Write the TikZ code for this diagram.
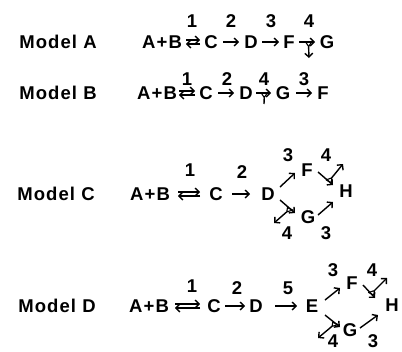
\documentclass[tikz,border=0pt]{standalone}
\usepackage{fontspec}
\setmainfont{Liberation Sans}
\usetikzlibrary{arrows.meta,calc}

% branch marker: small open wedge on a reaction arrow where a side product splits off
% #1 junction, #2 point along the main arrow, #3 end of the side branch
\newcommand{\splitwedge}[3]{%
  \draw[wedge] ($(#1)!3bp!(#2)$) -- ($(#1)!-3bp!(#2)$) -- ($(#1)!4.5bp!(#3)$) -- cycle;}

\tikzset{
  x=1bp, y=-1bp,
  txt/.style={font=\bfseries\fontsize{18.5bp}{21bp}\selectfont, inner sep=0pt,
              text height=13.2bp, text depth=0pt},
  wide/.style={txt, font=\bfseries\fontsize{18.5bp}{21bp}\selectfont\addfontfeature{LetterSpace=6}},
  arr/.style={line width=1.4bp, -{Straight Barb[length=3.8bp,width=8bp]}},
  plain/.style={line width=1.4bp},
  wedge/.style={line width=1.1bp, line join=round},
}

\begin{document}
\begin{tikzpicture}
\useasboundingbox (0,0) rectangle (402,352);

% ---------------- Model A ----------------
\node[wide] (MA)  at (58,42)  {Model A};
\node[wide] (AB1) at (162,42) {A+B};
\node[txt] (C1)  at (211,42) {C};
\node[txt] (D1)  at (251,42) {D};
\node[txt] (F1)  at (289,42) {F};
\node[txt] (G1)  at (327,42) {G};
\node[txt] (kA1) at (192,21) {1};
\node[txt] (kA2) at (231,21) {2};
\node[txt] (kA3) at (271,21) {3};
\node[txt] (kA4) at (309,21) {4};
\draw[arr] ([shift={(24,-2)}]AB1.center) -- ([shift={(-11,-2)}]C1.center);
\draw[arr] ([shift={(-11,2)}]C1.center) -- ([shift={(24,2)}]AB1.center);
\draw[arr] ([shift={(12,0)}]C1.center) -- ([shift={(-12,0)}]D1.center);
\draw[arr] ([shift={(11,0)}]D1.center) -- ([shift={(-10,0)}]F1.center);
\draw[arr] ([shift={(10,0)}]F1.center) -- coordinate[pos=0.6] (jA) ([shift={(-12,0)}]G1.center);
\coordinate (bA) at (309,58);
\coordinate (jAe) at ($(jA)+(0,4.5)$);
\draw[wedge] ($(jA)+(-3,0)$) -- ($(jA)+(3,0)$) -- (jAe) -- cycle;
\draw[arr] (jAe) -- (bA);

% ---------------- Model B ----------------
\node[wide] (MB)  at (58,93)  {Model B};
\node[wide] (AB2) at (157,93) {A+B};
\node[txt] (C2)  at (206,93) {C};
\node[txt] (D2)  at (246,93) {D};
\node[txt] (G2)  at (283,93) {G};
\node[txt] (F2)  at (323,93) {F};
\node[txt] (kB1) at (187,79) {1};
\node[txt] (kB2) at (227,79) {2};
\node[txt] (kB4) at (264,79) {4};
\node[txt] (kB3) at (304,79) {3};
\draw[arr] ([shift={(22,-2)}]AB2.center) -- ([shift={(-11,-2)}]C2.center);
\draw[arr] ([shift={(-11,2)}]C2.center) -- ([shift={(22,2)}]AB2.center);
\draw[arr] ([shift={(12,0)}]C2.center) -- ([shift={(-12,0)}]D2.center);
\draw[arr] ([shift={(10,0)}]D2.center) -- coordinate[pos=0.55] (jB) ([shift={(-12,0)}]G2.center);
\draw[arr] ([shift={(13,0)}]G2.center) -- ([shift={(-11,0)}]F2.center);
\coordinate (bB) at (264,104);
\coordinate (jBe) at ($(jB)+(0,4.5)$);
\draw[wedge] ($(jB)+(-3,0)$) -- ($(jB)+(3,0)$) -- (jBe) -- cycle;
\draw[plain] (jBe) -- (bB);

% ---------------- Model C ----------------
\node[wide] (MC)  at (56,194)  {Model C};
\node[wide] (AB3) at (150,194) {A+B};
\node[txt] (C3)  at (216,194) {C};
\node[txt] (D3)  at (268,194) {D};
\node[txt] (F3)  at (307,170) {F};
\node[txt] (G3)  at (308,217) {G};
\node[txt] (H3)  at (346,191) {H};
\node[txt] (kC1) at (190,170) {1};
\node[txt] (kC2) at (242,172) {2};
\node[txt] (kC3a) at (288,155) {3};
\node[txt] (kC4a) at (326,155) {4};
\node[txt] (kC4b) at (287,233) {4};
\node[txt] (kC3b) at (326,233) {3};
\draw[arr] ([shift={(28,-2)}]AB3.center) -- ([shift={(-16,-2)}]C3.center);
\draw[arr] ([shift={(-16,2)}]C3.center) -- ([shift={(28,2)}]AB3.center);
\draw[arr] ([shift={(16,0)}]C3.center) -- ([shift={(-18,0)}]D3.center);
\draw[arr] ([shift={(12,-7)}]D3.center) -- ([shift={(-12,3)}]F3.center);
\draw[arr] ([shift={(11,2)}]F3.center) -- coordinate[pos=0.72] (jC1) ([shift={(-13,-6)}]H3.center);
\coordinate (bC1) at (343,164);
\splitwedge{jC1}{H3}{bC1}
\draw[arr] ($(jC1)!4.5bp!(bC1)$) -- (bC1);
\draw[arr] ([shift={(12,6)}]D3.center) -- coordinate[pos=0.68] (jC2) ([shift={(-13,-4)}]G3.center);
\coordinate (bC2) at (274,223);
\splitwedge{jC2}{G3}{bC2}
\draw[arr] ($(jC2)!4.5bp!(bC2)$) -- (bC2);
\draw[arr] ([shift={(10,-2)}]G3.center) -- ([shift={(-13,11)}]H3.center);

% ---------------- Model D ----------------
\node[wide] (MD)  at (57,306)  {Model D};
\node[wide] (AB4) at (149,306) {A+B};
\node[txt] (C4)  at (214,306) {C};
\node[txt] (D4)  at (256,306) {D};
\node[txt] (E4)  at (312,306) {E};
\node[txt] (F4)  at (352,283) {F};
\node[txt] (G4)  at (350,330) {G};
\node[txt] (H4)  at (392,305) {H};
\node[txt] (kD1) at (192,286) {1};
\node[txt] (kD2) at (237,288) {2};
\node[txt] (kD5) at (288,288) {5};
\node[txt] (kD3a) at (333,270) {3};
\node[txt] (kD4a) at (372,270) {4};
\node[txt] (kD4b) at (333,341) {4};
\node[txt] (kD3b) at (373,341) {3};
\draw[arr] ([shift={(26,-2)}]AB4.center) -- ([shift={(-14,-2)}]C4.center);
\draw[arr] ([shift={(-14,2)}]C4.center) -- ([shift={(26,2)}]AB4.center);
\draw[arr] ([shift={(11,0)}]C4.center) -- ([shift={(-11,0)}]D4.center);
\draw[arr] ([shift={(19,0)}]D4.center) -- ([shift={(-15,0)}]E4.center);
\draw[arr] ([shift={(13,-6)}]E4.center) -- ([shift={(-12,5)}]F4.center);
\draw[arr] ([shift={(11,2)}]F4.center) -- coordinate[pos=0.68] (jD1) ([shift={(-17,-7)}]H4.center);
\coordinate (bD1) at (387,278);
\splitwedge{jD1}{H4}{bD1}
\draw[arr] ($(jD1)!4.5bp!(bD1)$) -- (bD1);
\draw[arr] ([shift={(13,9)}]E4.center) -- coordinate[pos=0.7] (jD2) ([shift={(-10,-3)}]G4.center);
\coordinate (bD2) at (318,338);
\splitwedge{jD2}{G4}{bD2}
\draw[arr] ($(jD2)!4.5bp!(bD2)$) -- (bD2);
\draw[arr] ([shift={(10,-2)}]G4.center) -- ([shift={(-14,10)}]H4.center);

\end{tikzpicture}
\end{document}
